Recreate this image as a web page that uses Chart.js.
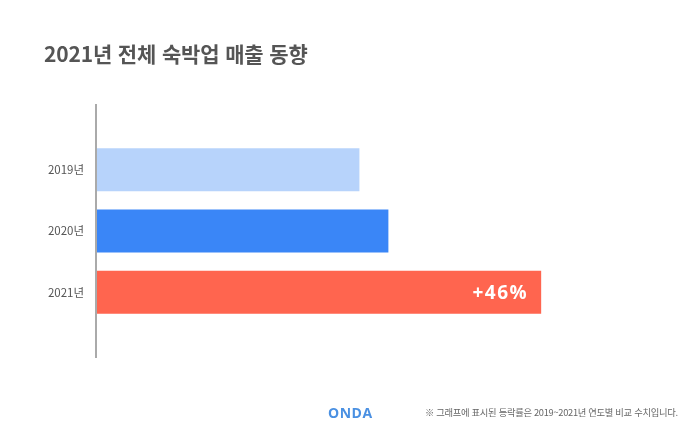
<!DOCTYPE html>
<html lang="ko">
<head>
<meta charset="utf-8">
<script src="https://cdn.jsdelivr.net/npm/chart.js@4"></script>
<style>
    body { margin: 0; background: #fff; }
    #wrap { position: relative; width: 700px; height: 437px; overflow: hidden; }
    #chart { position: absolute; left: 0; top: 0; }
    .title { position: absolute; left: 44px; top: 38px; font: bold 21px "Noto Sans CJK KR"; color: #555; letter-spacing: -0.15px; }
    .logo { position: absolute; left: 328px; top: 403px; font: bold 14px "Open Sans"; color: #4a90e2; letter-spacing: 0.5px; }
    .note { position: absolute; left: 425px; top: 405px; font: 9.3px "Noto Sans CJK KR"; color: #666; letter-spacing: -0.3px; }
</style>
</head>
<body>
<div id="wrap">
    <canvas id="chart" width="700" height="437"></canvas>
    <div class="title">2021년 전체 숙박업 매출 동향</div>
    <div class="logo">ONDA</div>
    <div class="note">※ 그래프에 표시된 등락률은 2019~2021년 연도별 비교 수치입니다.</div>
</div>
<script>
// 연도별 매출 (2019 = 100 기준, 그림에서 읽은 값)
const years = ['2019년', '2020년', '2021년'];
const sales = [100, 111, 169];
const barColors = ['#b7d3fb', '#3a86f7', '#ff654f'];
const changeLabels = ['', '', '+46%'];

// 세로 축선 (차트 영역보다 위아래로 길게)
const axisLine = {
    id: 'axisLine',
    afterDraw(chart) {
        const c = chart.ctx, a = chart.chartArea;
        c.save();
        c.strokeStyle = '#aaaaaa';
        c.lineWidth = 2;
        c.beginPath();
        c.moveTo(a.left, a.top - 35);
        c.lineTo(a.left, a.bottom + 35);
        c.stroke();
        c.restore();
    }
};

// 막대 안쪽 등락률 표시
const barText = {
    id: 'barText',
    afterDatasetsDraw(chart) {
        const c = chart.ctx;
        chart.getDatasetMeta(0).data.forEach(function (bar, i) {
            if (!changeLabels[i]) return;
            c.save();
            c.fillStyle = '#ffffff';
            c.font = 'bold 19px "Open Sans"';
            c.letterSpacing = '1.5px';
            c.textAlign = 'right';
            c.textBaseline = 'middle';
            c.fillText(changeLabels[i], bar.x - 13, bar.y + 1);
            c.restore();
        });
    }
};

const ctx = document.getElementById('chart').getContext('2d');
new Chart(ctx, {
    type: 'bar',
    data: {
        labels: years,
        datasets: [{
            data: sales,
            backgroundColor: barColors,
            borderWidth: 0,
            barPercentage: 1,
            categoryPercentage: 0.7
        }]
    },
    options: {
        indexAxis: 'y',
        responsive: false,
        animation: false,
        layout: { padding: { top: 139, bottom: 114, left: 0, right: 64 } },
        scales: {
            x: {
                display: false,
                min: 0,
                max: 205
            },
            y: {
                grid: { display: false, drawTicks: false },
                border: { display: false },
                ticks: {
                    padding: 12,
                    color: '#555',
                    font: { family: '"Noto Sans CJK KR"', size: 11.5 }
                },
                afterFit: function (scale) { scale.width = 96; }
            }
        },
        plugins: {
            legend: { display: false },
            tooltip: { enabled: false }
        }
    },
    plugins: [axisLine, barText]
});
</script>
</body>
</html>
